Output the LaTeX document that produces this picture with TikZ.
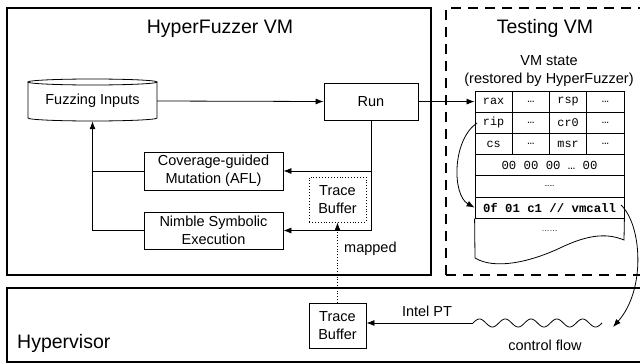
\documentclass[tikz,border=0pt]{standalone}
\usepackage{fontspec}
\setmainfont{Liberation Sans}
\setmonofont{Liberation Mono}
\usetikzlibrary{arrows.meta}
\tikzset{
  txt/.style={font=\fontsize{14.5}{18}\selectfont, align=center, inner sep=0pt},
  title/.style={font=\fontsize{19.5}{23}\selectfont, inner sep=0pt},
  box/.style={txt, draw, line width=0.8pt},
  dotbox/.style={txt, draw, dotted, line width=0.9pt},
  cell/.style={draw, line width=0.8pt, inner sep=0pt, minimum width=37.25pt, minimum height=21.2pt, font=\fontsize{11.8}{13}\ttfamily},
  wcell/.style={cell, minimum width=149pt, font=\fontsize{12.3}{14}\ttfamily},
  arr/.style={-{Latex[length=8pt,width=6pt]}, line width=0.8pt},
  thin/.style={line width=0.8pt},
  outer/.style={line width=2.2pt},
}
\begin{document}
\begin{tikzpicture}[x=1pt,y=-1pt]
\clip (0,0) rectangle (640,364);
\useasboundingbox (0,0) rectangle (640,364);
% outer frames
\draw[outer] (7,8) rectangle (431,275);
\draw[outer, dash pattern=on 10pt off 7pt] (446,275) -- (446,8) -- (650,8);
\draw[outer, dash pattern=on 10pt off 7pt] (446,275) -- (650,275);
\draw[outer] (7,288) rectangle (650,362);
\node[title, anchor=base] (t1) at (220,33) {HyperFuzzer VM};
\node[title, anchor=base] (t2) at (545,33) {Testing VM};
\node[title, anchor=base west] (t3) at (17,348) {Hypervisor};

% fuzzing inputs cylinder
\node[txt, minimum width=129pt, minimum height=40pt] (fi) at (92.5,101) {Fuzzing Inputs};
\draw[thin] (28,82) -- (28,118) arc[start angle=180, end angle=360, x radius=64.5pt, y radius=3pt] -- (157,82);
\draw[thin] (92.5,82) ellipse [x radius=64.5pt, y radius=3pt];

\node[box, minimum width=94pt, minimum height=37pt] (run) at (371,101.5) {Run};
\node[box, minimum width=139pt, minimum height=38pt] (cov) at (213.5,171) {Coverage-guided\\Mutation (AFL)};
\node[box, minimum width=139pt, minimum height=37pt] (nse) at (213.5,230.5) {Nimble Symbolic\\Execution};
\node[dotbox, minimum width=57pt, minimum height=45pt] (tb1) at (337.5,199.5) {Trace\\Buffer};
\node[box, minimum width=57pt, minimum height=45pt] (tb2) at (337.5,325.5) {Trace\\Buffer};

\draw[arr] (fi.east) -- (run.west);
\draw[arr] (run.south) |- (nse.east);
\draw[arr] (run.south) |- (cov.east);
\draw[arr] (nse.west) -| (fi.south);
\draw[thin] (cov.west) -- (cov.west -| fi.south);
\draw[arr, dotted] (tb2.north) -- (tb1.south);
\node[txt, anchor=west] (mapped) at (344,249) {mapped};

% VM state
\node[txt] (vms) at (549,61) {VM state};
\node[txt] (rest) at (549,80) {(restored by HyperFuzzer)};
\node[cell] (r1c1) at (493.6,101.6) {rax};
\node[cell] (r1c2) at (530.9,101.6) {…};
\node[cell] (r1c3) at (568.1,101.6) {rsp};
\node[cell] (r1c4) at (605.4,101.6) {…};
\node[cell] (r2c1) at (493.6,122.8) {rip};
\node[cell] (r2c2) at (530.9,122.8) {…};
\node[cell] (r2c3) at (568.1,122.8) {cr0};
\node[cell] (r2c4) at (605.4,122.8) {…};
\node[cell] (r3c1) at (493.6,144) {cs};
\node[cell] (r3c2) at (530.9,144) {…};
\node[cell] (r3c3) at (568.1,144) {msr};
\node[cell] (r3c4) at (605.4,144) {…};
\node[wcell] (r4) at (549.5,165.2) {00 00 00 … 00};
\node[wcell] (r5) at (549.5,186.4) {\fontsize{8}{9}\selectfont ……};
\node[wcell] (vm) at (549.5,207.6) {\bfseries 0f 01 c1 // vmcall};
\draw[thin] (vm.south west) -- (475,258) .. controls (495,270) and (530,262) .. (560,248) .. controls (585,236) and (605,232) .. (624,240) -- (vm.south east);
\node[txt, font=\fontsize{8}{9}\selectfont] (r7) at (549.5,231) {……};

\draw[arr] (run.east) -- (r1c1.west);
\coordinate (ripout) at (477,123);
\draw[arr] (ripout) .. controls (452,140) and (452,195) .. (vm.west);

% control flow
\coordinate (vmout) at (621,205);
\coordinate (cfend) at (613,327);
\draw[arr] (vmout) .. controls (642,225) and (646,290) .. (cfend);
\draw[thin] plot[domain=0:129, samples=160] ({473+\x},{323-4*sin(\x*13.9535)});
\coordinate (wl) at (473,323);
\draw[arr] (wl) -- (wl -| tb2.east);
\node[txt] (ipt) at (427,311) {Intel PT};
\node[txt] (cf) at (545,345) {control flow};
\end{tikzpicture}
\end{document}
